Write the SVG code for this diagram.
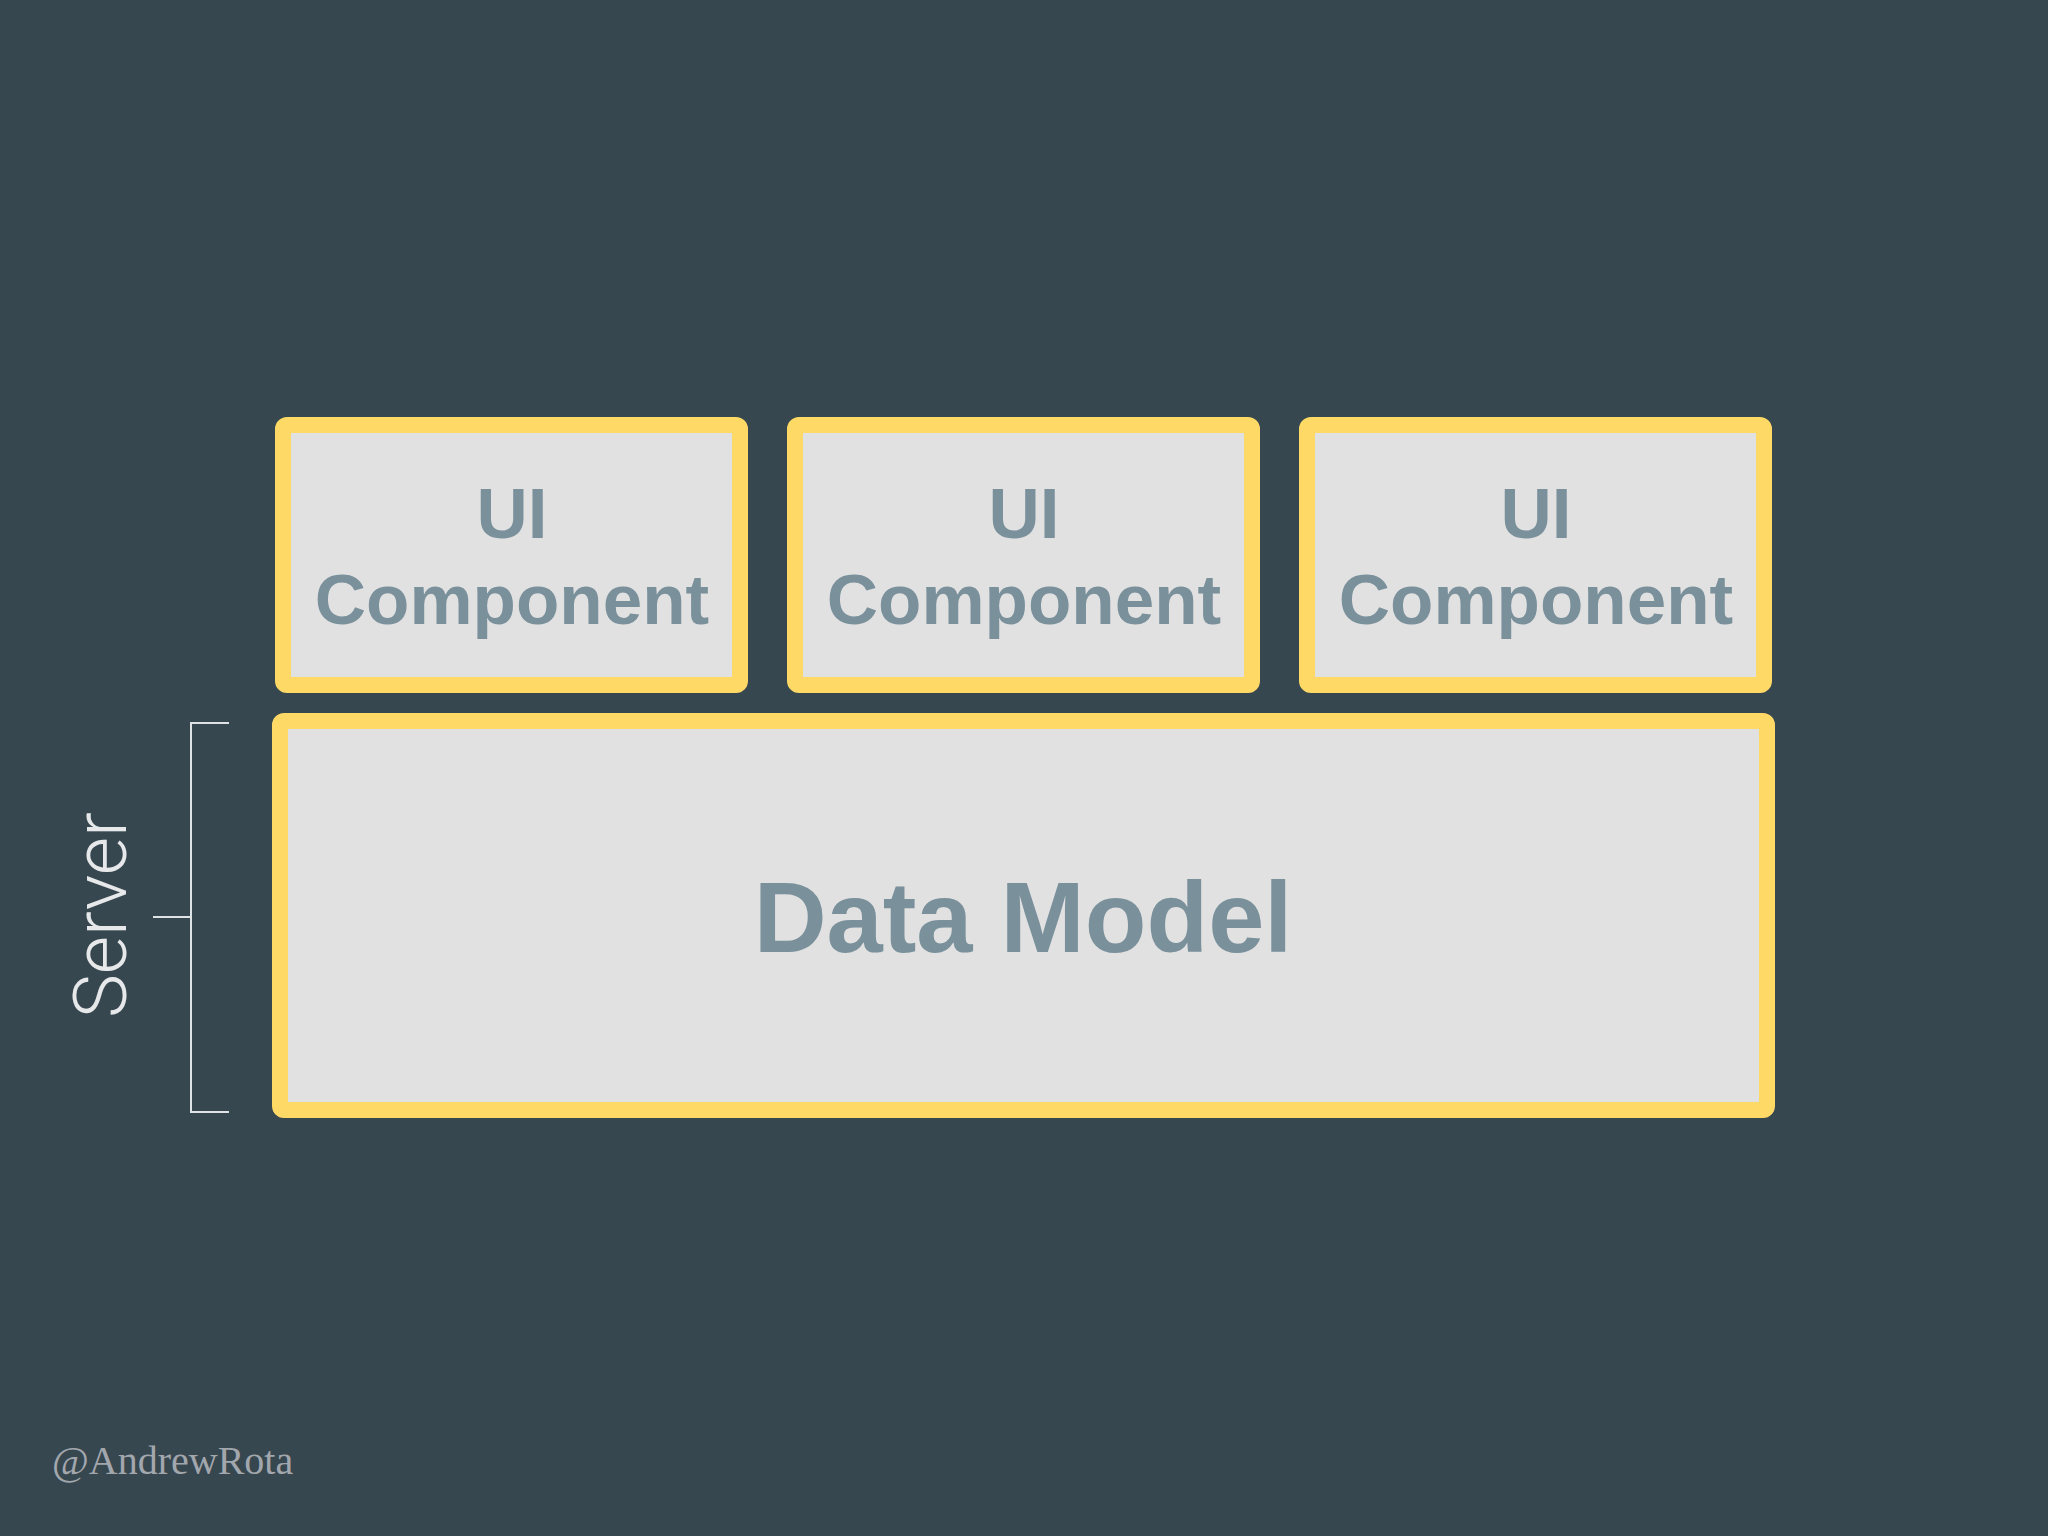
<svg xmlns="http://www.w3.org/2000/svg" width="2048" height="1536" viewBox="0 0 2048 1536">
<style>
.box{fill:#e1e1e1;stroke:#ffd966;stroke-width:16}
.lbl{font-family:"Liberation Sans",Arial,sans-serif;font-weight:bold;fill:#7a909b;text-anchor:middle}
.brk{fill:none;stroke:#dfe3e6;stroke-width:2}
</style>
<rect width="2048" height="1536" fill="#37474f"/>
<g id="ui1">
<rect class="box" x="283" y="425" width="457" height="260" rx="4"/>
<text class="lbl" x="512" y="538" font-size="71">UI</text>
<text class="lbl" x="512" y="624" font-size="71">Component</text>
</g>
<g id="ui2">
<rect class="box" x="795" y="425" width="457" height="260" rx="4"/>
<text class="lbl" x="1024" y="538" font-size="71">UI</text>
<text class="lbl" x="1024" y="624" font-size="71">Component</text>
</g>
<g id="ui3">
<rect class="box" x="1307" y="425" width="457" height="260" rx="4"/>
<text class="lbl" x="1536" y="538" font-size="71">UI</text>
<text class="lbl" x="1536" y="624" font-size="71">Component</text>
</g>
<g id="datamodel">
<rect class="box" x="280" y="721" width="1487" height="389" rx="4"/>
<text class="lbl" x="1023" y="952" font-size="101">Data Model</text>
</g>
<g id="server">
<path class="brk" d="M229,723 H191 V1112 H229 M191,917 H153"/>
<text x="0" y="0" transform="translate(126,915) rotate(-90)" font-family="Roboto,'Liberation Sans',sans-serif" font-weight="300" font-size="74" fill="#e6e8ea" text-anchor="middle">Server</text>
</g>
<g id="connectors"/>
<text x="52" y="1474" font-family="'Liberation Serif','Times New Roman',serif" font-size="40" fill="#a2a6ad">@AndrewRota</text>
</svg>
